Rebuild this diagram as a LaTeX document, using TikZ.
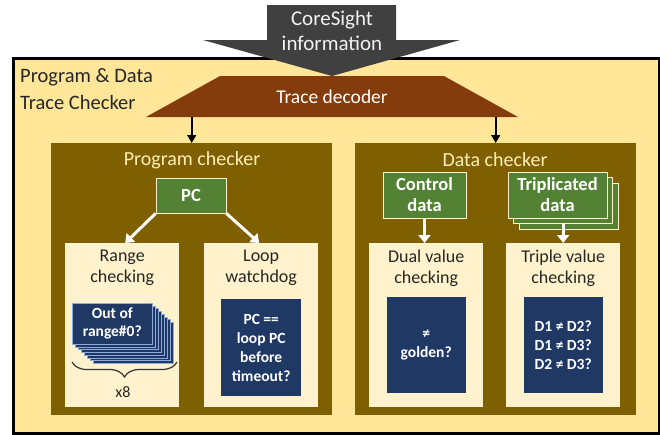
\documentclass[tikz,border=0pt]{standalone}
\usepackage{fontspec}
\setmainfont{Carlito}
\usetikzlibrary{shapes.geometric, arrows.meta, positioning, decorations.pathreplacing}

\definecolor{sand}{HTML}{FFE699}
\definecolor{cream}{HTML}{FFF2CC}
\definecolor{olivebox}{HTML}{7F6000}
\definecolor{leaf}{HTML}{548235}
\definecolor{navy}{HTML}{203864}
\definecolor{rust}{HTML}{843C0C}
\definecolor{slate}{HTML}{404040}
\definecolor{steel}{HTML}{8FAADC}
\newcommand{\sz}[2]{\fontsize{#1pt}{#2pt}\selectfont}

\begin{document}
\begin{tikzpicture}[x=1pt,y=-1pt,>=Stealth,
        panel/.style={fill=olivebox,anchor=north west,inner sep=0pt,minimum width=281pt,minimum height=272pt},
        subbox/.style={fill=cream,anchor=north west,inner sep=0pt,minimum width=114pt,minimum height=164pt},
        testbox/.style={fill=navy,text=white,font=\bfseries\sz{15.5}{19},align=center,inner sep=0pt,minimum width=80pt,minimum height=97pt},
        stackbox/.style={fill=navy,draw=steel,line width=0.6pt,anchor=north west,inner sep=0pt,minimum width=80pt,minimum height=41pt},
        greenbox/.style={fill=leaf,draw=cream,line width=0.8pt,text=white,font=\bfseries\sz{18.5}{21},align=center,inner sep=0pt,minimum height=46pt},
        paneltitle/.style={text=sand!70!white,font=\sz{20}{24}},
        boxtitle/.style={text=black!85,font=\sz{18}{21},align=center},
        down/.style={-{Triangle[length=8pt,width=9pt]},line width=1.6pt},
        feed/.style={white,-{Triangle[length=8pt,width=12pt]},line width=3pt}]
      \useasboundingbox (0,0) rectangle (660,434);

      % outer checker and incoming trace
      \node[draw=black,line width=2.5pt,fill=sand,anchor=north west,minimum width=646pt,minimum height=375pt] (tracer) at (12,57) {};
      \node[anchor=north west,inner sep=0pt,align=left,text=black!85,font=\sz{20.5}{27}] (name) at (20,68) {Program \& Data\\Trace Checker};
      \fill[slate] (267,5) -- (396,5) -- (396,40) -- (460,40) -- (332,76) -- (203,40) -- (267,40) -- cycle;
      \node[text=white!95!black,font=\sz{21}{25},align=center] (info) at (332,31) {CoreSight\\information};
      \node[trapezium,trapezium stretches,trapezium angle=20.4,fill=rust,text=white,font=\sz{19.5}{22},
        minimum width=373pt,minimum height=41pt,inner sep=0pt,anchor=north] (decoder) at (332,76) {Trace decoder};

      % the two checkers
      \node[panel] (prog) at (51,143) {};
      \node[panel] (data) at (355,143) {};
      \draw[down] (decoder.south -| prog.north) -- (prog.north);
      \draw[down] (decoder.south -| data.north) -- (data.north);
      \node[paneltitle] (progtitle) at (192,160) {Program checker};
      \node[paneltitle] (datatitle) at (495,160) {Data checker};

      \node[subbox] (range) at (65,243) {};
      \node[subbox] (loop) at (204,243) {};
      \node[subbox] (dual) at (369,243) {};
      \node[subbox] (triple) at (506,243) {};
      \node[boxtitle] at ([yshift=-25pt]range.north) {Range\\checking};
      \node[boxtitle] at ([yshift=-25pt]loop.north) {Loop\\watchdog};
      \node[boxtitle] at ([yshift=-25pt]dual.north) {Dual value\\checking};
      \node[boxtitle] at ([yshift=-25pt]triple.north) {Triple value\\checking};

      % program side
      \node[greenbox,minimum width=70pt,minimum height=35pt] (pc) at (191,195.5) {PC};
      \draw[feed] (pc.south west) -- ([xshift=3pt]range.north);
      \draw[feed] (pc.south east) -- ([xshift=-2pt]loop.north);
      \foreach \i in {7,...,1}
        \node[stackbox] at (72+3*\i,303+2.7*\i) {};
      \node[stackbox,text=white,font=\bfseries\sz{15.5}{18},align=center] (range0) at (72,303) {Out of\\range\#0?};
      \draw[decorate,decoration={brace,mirror,amplitude=15pt},line width=1.2pt,black!80] (72,362) -- (177,362);
      \node[font=\sz{16}{19},text=black!85] (count) at (123,392) {x8};
      \node[testbox,below=56pt of loop.north] (loopt) {PC ==\\loop PC\\before\\timeout?};

      % data side
      \node[greenbox,minimum width=83pt] (control) at (424.5,195) {Control\\data};
      \foreach \i in {2,1}
        \node[greenbox,minimum width=99pt] (tripback) at (557.5+5.5*\i,195+5.5*\i) {};
      \node[greenbox,minimum width=99pt] (trip) at (557.5,195) {Triplicated\\data};
      \draw[feed] (control.south) -- (control.south |- dual.north);
      \draw[feed] (tripback.south -| triple.north) -- (triple.north);
      \node[testbox,minimum width=79pt,minimum height=96pt,below=54pt of dual.north] (dualt) {≠\\golden?};
      \node[testbox,minimum width=79pt,minimum height=96pt,below=54pt of triple.north] (triplet) {D1 ≠ D2?\\D1 ≠ D3?\\D2 ≠ D3?};
    \end{tikzpicture}
\end{document}
